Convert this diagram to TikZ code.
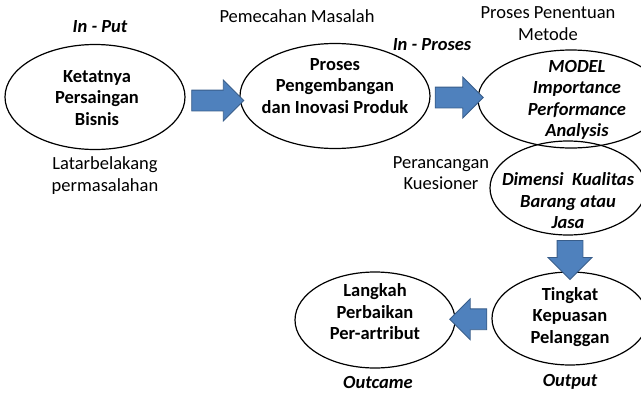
\documentclass[tikz,border=0pt]{standalone}
\usepackage{fontspec}
\setmainfont{Carlito}
\usepackage{tikz}
\usetikzlibrary{shapes.geometric,shapes.arrows}
\definecolor{arrowblue}{RGB}{79,129,189}
\definecolor{arrowline}{RGB}{56,93,138}

\tikzset{
  bubble/.style={ellipse, draw=black, line width=1.2pt, inner sep=0pt},
  blockarrow/.style={single arrow, draw=arrowline, fill=arrowblue, line width=0.8pt,
    inner xsep=0pt, inner ysep=10pt, single arrow head extend=10pt},
  txt/.style={align=center, font=\fontsize{18.5}{21.5}\selectfont},
  boldtxt/.style={txt, font=\fontsize{18.5}{21.5}\selectfont\bfseries},
  itbtxt/.style={txt, font=\fontsize{18.5}{21.5}\selectfont\bfseries\itshape}
}

\begin{document}
\begin{tikzpicture}[x=1pt, y=-1pt]
  \useasboundingbox (0,0) rectangle (641,394);
  \clip (0,0) rectangle (641,394);

  % ellipses
  \node[bubble, minimum width=180pt, minimum height=105pt] (bisnis) at (95,97) {};
  \node[bubble, minimum width=190pt, minimum height=105pt] (produk) at (335,96) {};
  \node[bubble, minimum width=186pt, minimum height=98pt] (model) at (571,99) {};
  \node[bubble, minimum width=156pt, minimum height=94pt] (dimensi) at (568,188) {};
  \node[bubble, minimum width=156pt, minimum height=93pt] (kepuasan) at (570,318.5) {};
  \node[bubble, minimum width=160pt, minimum height=96pt] (langkah) at (375,320) {};

  % texts in the ellipses
  \node[boldtxt] (bisnistxt) at (97,98) {Ketatnya\\Persaingan\\Bisnis};
  \node[boldtxt] (produktxt) at (335,86) {Proses\\Pengembangan\\dan Inovasi Produk};
  \node[itbtxt] (modeltxt) at (577,100) {MODEL\\Importance\\Performance\\Analysis};
  \node[itbtxt] (dimensitxt) at (568,201) {Dimensi~ Kualitas\\Barang atau\\Jasa};
  \node[boldtxt] (kepuasantxt) at (570,317) {Tingkat\\Kepuasan\\Pelanggan};
  \node[boldtxt] (langkahtxt) at (375,312) {Langkah\\Perbaikan\\Per-artribut};

  % labels
  \node[itbtxt] (input) at (100,27) {In - Put};
  \node[txt] (masalah) at (297,16) {Pemecahan Masalah};
  \node[itbtxt] (inproses) at (432,45) {In - Proses};
  \node[txt] (metode) at (548,23.5) {Proses Penentuan\\Metode};
  \node[txt] (latar) at (105,175.5) {Latarbelakang\\permasalahan};
  \node[txt] (kuesioner) at (441,173) {Perancangan\\Kuesioner};
  \node[itbtxt] (outcame) at (378,382) {Outcame};
  \node[itbtxt] (output) at (570,382) {Output};

  % block arrows
  \path ([yshift=-4pt]bisnis.east) -- node[blockarrow, minimum height=52pt] (a1) {} ([yshift=-4pt]produk.west);
  \path (produk.east) -- node[blockarrow, minimum height=48pt] (a2) {} (model.west);
  \path ([xshift=2pt]dimensi.south) -- node[blockarrow, minimum height=39pt, inner ysep=12.5pt,
    single arrow head extend=9pt, rotate=-90] (a3) {} (kepuasan.north);
  \path (kepuasan.west) -- node[blockarrow, minimum height=37pt, shape border rotate=180] (a4) {} (langkah.east);
\end{tikzpicture}
\end{document}
